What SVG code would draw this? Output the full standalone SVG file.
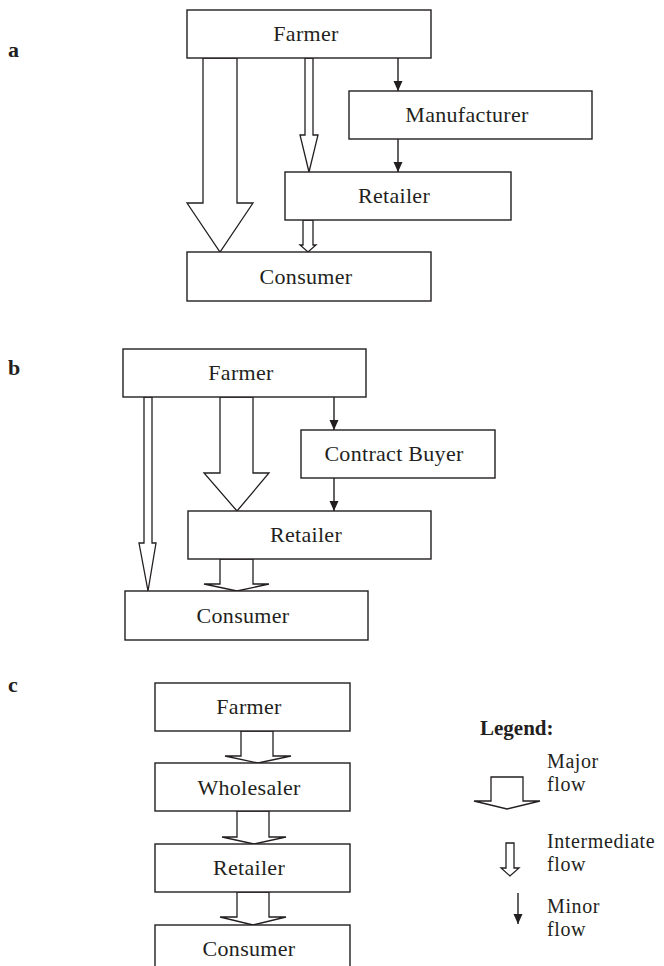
<svg xmlns="http://www.w3.org/2000/svg" width="664" height="966" viewBox="0 0 664 966">
  <style>
    .box { fill: #ffffff; stroke: #231f20; stroke-width: 1.4; }
    .flow { fill: #ffffff; stroke: #231f20; stroke-width: 1.3; stroke-linejoin: miter; }
    .minor { stroke: #231f20; stroke-width: 1.4; fill: none; }
    .lbl { font-family: "Liberation Serif", "Times New Roman", serif; font-size: 22px; fill: #231f20; text-anchor: middle; letter-spacing: 0.3px; }
    .panel { font-family: "Liberation Serif", "Times New Roman", serif; font-size: 22px; font-weight: bold; fill: #231f20; }
    .leg { font-family: "Liberation Serif", "Times New Roman", serif; font-size: 20px; fill: #231f20; letter-spacing: 0.6px; }
    .legh { font-family: "Liberation Serif", "Times New Roman", serif; font-size: 21px; font-weight: bold; fill: #231f20; }
  </style>
  <defs>
    <marker id="head" viewBox="0 0 10 10" refX="10" refY="5" markerWidth="10" markerHeight="10" markerUnits="userSpaceOnUse" orient="auto">
      <path d="M0,0.5 L10,5 L0,9.5 Z" fill="#231f20"/>
    </marker>
  </defs>

  <!-- panel letters -->
  <text class="panel" x="8" y="57">a</text>
  <text class="panel" x="8" y="375">b</text>
  <text class="panel" x="8" y="692">c</text>

  <!-- connectors -->
  <g id="connectors">
    <!-- panel a -->
    <polygon class="flow" points="203,58 203,203 187,203 220,252 253,203 237,203 237,58"/>
    <polygon class="flow" points="305,58 305,135 300,135 309,172 318,135 313,135 313,58"/>
    <polygon class="flow" points="303,220 303,245 300,245 308,252 316,245 313,245 313,220"/>
    <line class="minor" x1="398" y1="58" x2="398" y2="91" marker-end="url(#head)"/>
    <line class="minor" x1="398" y1="139" x2="398" y2="172" marker-end="url(#head)"/>

    <!-- panel b -->
    <polygon class="flow" points="144,397 144,543 139,543 148,591 156,543 152,543 152,397"/>
    <polygon class="flow" points="220,397 220,473 204,473 237,511 269,473 253,473 253,397"/>
    <polygon class="flow" points="220,559 220,584 204,584 237,591 269,584 253,584 253,559"/>
    <line class="minor" x1="334" y1="397" x2="334" y2="430" marker-end="url(#head)"/>
    <line class="minor" x1="334" y1="478" x2="334" y2="511" marker-end="url(#head)"/>

    <!-- panel c -->
    <polygon class="flow" points="241,731 241,756 225,756 258,763 291,756 273,756 273,731"/>
    <polygon class="flow" points="237,811 237,837 222,837 254,844 286,837 269,837 269,811"/>
    <polygon class="flow" points="237,892 237,917 220,917 253,925 286,917 269,917 269,892"/>
  </g>

  <!-- panel a nodes -->
  <g id="a-farmer"><rect class="box" x="187" y="10" width="244" height="48"/><text class="lbl" x="306" y="41">Farmer</text></g>
  <g id="a-manufacturer"><rect class="box" x="349" y="91" width="243" height="48"/><text class="lbl" x="467" y="122">Manufacturer</text></g>
  <g id="a-retailer"><rect class="box" x="285" y="172" width="226" height="48"/><text class="lbl" x="394" y="203">Retailer</text></g>
  <g id="a-consumer"><rect class="box" x="187" y="252" width="244" height="49"/><text class="lbl" x="306" y="284">Consumer</text></g>

  <!-- panel b nodes -->
  <g id="b-farmer"><rect class="box" x="123" y="349" width="243" height="48"/><text class="lbl" x="241" y="380">Farmer</text></g>
  <g id="b-contract-buyer"><rect class="box" x="301" y="430" width="194" height="48"/><text class="lbl" x="394" y="461">Contract Buyer</text></g>
  <g id="b-retailer"><rect class="box" x="188" y="511" width="243" height="48"/><text class="lbl" x="306" y="542">Retailer</text></g>
  <g id="b-consumer"><rect class="box" x="125" y="591" width="243" height="49"/><text class="lbl" x="243" y="623">Consumer</text></g>

  <!-- panel c nodes -->
  <g id="c-farmer"><rect class="box" x="155" y="683" width="195" height="48"/><text class="lbl" x="249" y="714">Farmer</text></g>
  <g id="c-wholesaler"><rect class="box" x="155" y="763" width="195" height="48"/><text class="lbl" x="249" y="795">Wholesaler</text></g>
  <g id="c-retailer"><rect class="box" x="155" y="844" width="195" height="48"/><text class="lbl" x="249" y="875">Retailer</text></g>
  <g id="c-consumer"><rect class="box" x="155" y="925" width="195" height="48"/><text class="lbl" x="249" y="956">Consumer</text></g>

  <!-- legend: two-line captions -->
  <g id="legend">
    <text class="legh" x="480" y="735">Legend:</text>
    <polygon class="flow" points="491,777 491,801 474,801 507,809 540,801 523,801 523,777"/>
    <text class="leg" x="547" y="768">Major<tspan x="547" dy="23">flow</tspan></text>
    <polygon class="flow" points="506,843 506,868 501,868 510,876 519,868 514,868 514,843"/>
    <text class="leg" x="547" y="848">Intermediate<tspan x="547" dy="23">flow</tspan></text>
    <line class="minor" x1="518" y1="893" x2="518" y2="924" marker-end="url(#head)"/>
    <text class="leg" x="547" y="913">Minor<tspan x="547" dy="23">flow</tspan></text>
  </g>
</svg>
